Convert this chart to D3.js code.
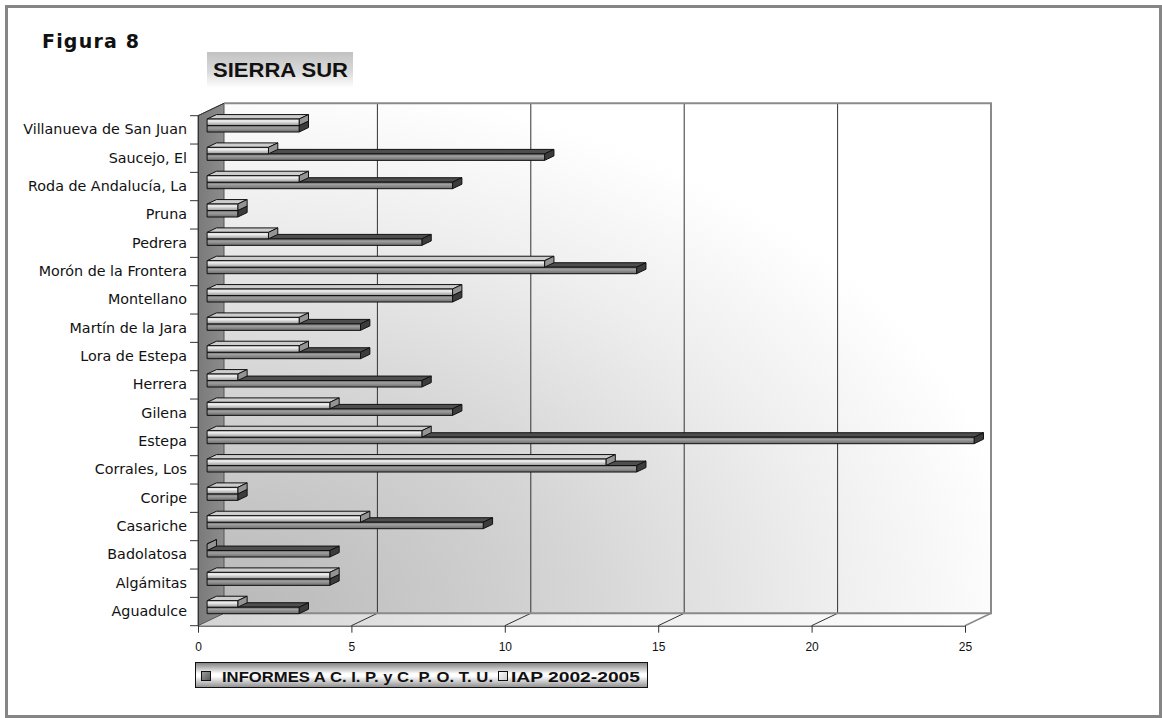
<!DOCTYPE html>
<html>
<head>
<meta charset="utf-8">
<script src="https://cdn.jsdelivr.net/npm/d3@7"></script>
<style>
  html, body { margin: 0; padding: 0; background: #ffffff; }
  svg { display: block; }
</style>
</head>
<body>
<svg id="chart" width="1162" height="718"></svg>
<script>
// Municipalities of the Sierra Sur district, listed bottom to top
const categories = [
  "Aguadulce", "Algámitas", "Badolatosa", "Casariche", "Coripe",
  "Corrales, Los", "Estepa", "Gilena", "Herrera", "Lora de Estepa",
  "Martín de la Jara", "Montellano", "Morón de la Frontera", "Pedrera",
  "Pruna", "Roda de Andalucía, La", "Saucejo, El", "Villanueva de San Juan"
];
const informes = [3, 4, 4, 9, 1, 14, 25, 8, 7, 5, 5, 8, 14, 7, 1, 8, 11, 3];
const iap      = [1, 4, 0, 5, 1, 13, 7, 4, 1, 3, 3, 8, 11, 2, 1, 3, 2, 3];
const seriesNames = ["INFORMES A C. I. P. y C. P. O. T. U.", "IAP 2002-2005"];
const xTicks = [0, 5, 10, 15, 20, 25];

const svg = d3.select("#chart");
const defs = svg.append("defs");

// plot frame (front plane) and 3D depth vector
const X0 = 198, X1 = 965, Y0 = 115.7, Y1 = 625.7;
const DX = 26, DY = -12.4;
const barFront = 0.35, barDepth = 0.36;   // fraction of the depth
const barH = 6.5;

const x = d3.scaleLinear().domain([0, 25]).range([X0, X1]);
const y = d3.scaleBand().domain(categories).range([Y1, Y0]);

function grad(id, x2, y2, stops, x1 = 0, y1 = 0) {
  const g = defs.append("linearGradient").attr("id", id)
    .attr("x1", x1).attr("y1", y1).attr("x2", x2).attr("y2", y2);
  stops.forEach(([o, c]) => g.append("stop").attr("offset", o).attr("stop-color", c));
}
// back wall: shaded from the lower-left corner outwards
const wg = defs.append("radialGradient").attr("id", "wallGrad")
  .attr("cx", 0).attr("cy", 1).attr("r", 1.05).attr("fx", 0).attr("fy", 1);
[[0, "#b8b8b8"], [0.45, "#d6d6d6"], [0.75, "#eeeeee"], [1, "#ffffff"]]
  .forEach(([o, c]) => wg.append("stop").attr("offset", o).attr("stop-color", c));
grad("floorGrad", 1, 0, [[0, "#d4d4d4"], [0.5, "#eeeeee"], [1, "#ffffff"]]);
grad("sideGrad", 1, 0, [[0, "#7a7a7a"], [1, "#8c8c8c"]]);
grad("titleGrad", 0, 1, [[0, "#c2c2c2"], [0.55, "#dadada"], [1, "#ffffff"]]);
grad("legendGrad", 0, 1, [[0, "#7e7e7e"], [0.45, "#ffffff"], [0.55, "#ffffff"], [1, "#8e8e8e"]]);
grad("iapFront", 0, 1, [[0, "#d0d0d0"], [0.3, "#f0f0f0"], [1, "#989898"]]);
grad("infFront", 0, 1, [[0, "#6a6a6a"], [0.35, "#a0a0a0"], [1, "#6c6c6c"]]);
grad("iapSwatch", 1, 1, [[0, "#ffffff"], [1, "#cccccc"]]);
grad("infSwatch", 1, 1, [[0, "#a0a0a0"], [1, "#555555"]]);

// outer border
svg.append("rect").attr("x", 6.5).attr("y", 6.5).attr("width", 1154).attr("height", 710)
  .attr("fill", "none").attr("stroke", "#858585").attr("stroke-width", 3);

// titles
svg.append("text").attr("x", 42).attr("y", 48)
  .attr("font-family", "DejaVu Sans").attr("font-weight", "bold").attr("font-size", 19)
  .attr("textLength", 97).attr("lengthAdjust", "spacing").attr("fill", "#111")
  .text("Figura 8");
svg.append("rect").attr("x", 207).attr("y", 52).attr("width", 146).attr("height", 36)
  .attr("fill", "url(#titleGrad)");
svg.append("text").attr("x", 213).attr("y", 76.5)
  .attr("font-family", "Liberation Sans, Arial").attr("font-weight", "bold").attr("font-size", 20)
  .attr("textLength", 135).attr("lengthAdjust", "spacingAndGlyphs").attr("fill", "#111")
  .text("SIERRA SUR");

// 3D walls
const P = (px, py) => px + "," + py;
svg.append("rect").attr("x", X0 + DX).attr("y", Y0 + DY)
  .attr("width", X1 - X0).attr("height", Y1 - Y0).attr("fill", "url(#wallGrad)");
svg.append("polygon")
  .attr("points", [P(X0, Y1), P(X1, Y1), P(X1 + DX, Y1 + DY), P(X0 + DX, Y1 + DY)].join(" "))
  .attr("fill", "url(#floorGrad)");
svg.append("polygon")
  .attr("points", [P(X0, Y0), P(X0 + DX, Y0 + DY), P(X0 + DX, Y1 + DY), P(X0, Y1)].join(" "))
  .attr("fill", "url(#sideGrad)").attr("stroke", "#555").attr("stroke-width", 1);

// gridlines on back wall and floor
const grid = svg.append("g");
xTicks.slice(1, -1).forEach(t => {
  grid.append("line").attr("x1", x(t) + DX).attr("x2", x(t) + DX)
    .attr("y1", Y0 + DY).attr("y2", Y1 + DY).attr("stroke", "#333").attr("stroke-width", 1);
  grid.append("line").attr("x1", x(t)).attr("x2", x(t) + DX)
    .attr("y1", Y1).attr("y2", Y1 + DY).attr("stroke", "#333").attr("stroke-width", 1);
});
// wall outline
svg.append("path")
  .attr("d", `M${X0 + DX},${Y0 + DY}H${X1 + DX}V${Y1 + DY}H${X0 + DX}`)
  .attr("fill", "none").attr("stroke", "#8a8a8a").attr("stroke-width", 2);
svg.append("line").attr("x1", X1).attr("y1", Y1).attr("x2", X1 + DX).attr("y2", Y1 + DY)
  .attr("stroke", "#8a8a8a").attr("stroke-width", 1.5);
svg.append("line").attr("x1", X0).attr("y1", Y0).attr("x2", X0 + DX).attr("y2", Y0 + DY)
  .attr("stroke", "#333").attr("stroke-width", 1);

// x axis along the front edge of the floor
const xAxis = svg.append("g").attr("transform", `translate(0,${Y1})`)
  .call(d3.axisBottom(x).tickValues(xTicks).tickSize(7).tickPadding(10).tickFormat(d3.format("d")));
xAxis.attr("font-size", null).attr("font-family", null);
xAxis.select(".domain").attr("stroke", "#333").attr("d", `M${X0},0.5H${X1}`);
xAxis.selectAll(".tick line").attr("stroke", "#333");
xAxis.selectAll(".tick text").style("font-family", "Liberation Sans, Arial")
  .style("font-size", "12px").attr("fill", "#111");

// y axis: labels at band centres, ticks at band boundaries
const yAxis = svg.append("g").attr("transform", `translate(${X0},0)`)
  .call(d3.axisLeft(y).tickSize(0).tickPadding(11));
yAxis.attr("font-size", null).attr("font-family", null);
yAxis.select(".domain").attr("stroke", "#333").attr("d", `M0.5,${Y0}V${Y1}`);
yAxis.selectAll(".tick text").style("font-family", "DejaVu Sans")
  .style("font-size", "14.3px").attr("fill", "#111");
const bounds = d3.range(categories.length + 1).map(i => Y1 - i * y.step());
yAxis.selectAll(".bound").data(bounds).join("line").attr("class", "bound")
  .attr("x1", -8).attr("x2", 0).attr("y1", d => d).attr("y2", d => d)
  .attr("stroke", "#333");

// 3D bars
const ox = barFront * DX, oy = barFront * DY;
const bdx = barDepth * DX, bdy = barDepth * DY;
const series = [
  { name: seriesNames[0], values: informes, slot: 1, front: "url(#infFront)", top: "#4e4e4e", side: "#3c3c3c" },
  { name: seriesNames[1], values: iap, slot: 0, front: "url(#iapFront)", top: "#cdcdcd", side: "#949494" }
];
const bars = svg.append("g");
series.forEach(s => {
  categories.forEach((c, i) => {
    const v = s.values[i];
    const mid = y(c) + y.bandwidth() / 2;
    const yt = mid - barH + s.slot * barH + oy;
    const yb = yt + barH;
    const xl = x(0) + ox, xr = x(v) + ox;
    const g = bars.append("g").attr("stroke", "#111").attr("stroke-width", 1)
      .attr("stroke-linejoin", "round");
    g.append("polygon")
      .attr("points", [P(xl, yt), P(xr, yt), P(xr + bdx, yt + bdy), P(xl + bdx, yt + bdy)].join(" "))
      .attr("fill", s.top);
    g.append("polygon")
      .attr("points", [P(xr, yt), P(xr + bdx, yt + bdy), P(xr + bdx, yb + bdy), P(xr, yb)].join(" "))
      .attr("fill", s.side);
    if (v > 0) {
      g.append("rect").attr("x", xl).attr("y", yt).attr("width", xr - xl).attr("height", barH)
        .attr("fill", s.front);
    }
  });
});

// legend
const lg = svg.append("g");
lg.append("rect").attr("x", 195.5).attr("y", 662.5).attr("width", 452).attr("height", 25)
  .attr("fill", "url(#legendGrad)").attr("stroke", "#111").attr("stroke-width", 1);
const legendItems = [
  { label: seriesNames[0], sx: 201.5, tx: 222, len: 271, fill: "url(#infSwatch)" },
  { label: seriesNames[1], sx: 498.5, tx: 511, len: 129, fill: "url(#iapSwatch)" }
];
legendItems.forEach(it => {
  lg.append("rect").attr("x", it.sx).attr("y", 671.5).attr("width", 9).attr("height", 9)
    .attr("fill", it.fill).attr("stroke", "#111").attr("stroke-width", 1);
  lg.append("text").attr("x", it.tx).attr("y", 681.5)
    .attr("font-family", "Liberation Sans, Arial").attr("font-weight", "bold").attr("font-size", 15.5)
    .attr("textLength", it.len).attr("lengthAdjust", "spacingAndGlyphs").attr("fill", "#111")
    .text(it.label);
});
</script>
</body>
</html>
